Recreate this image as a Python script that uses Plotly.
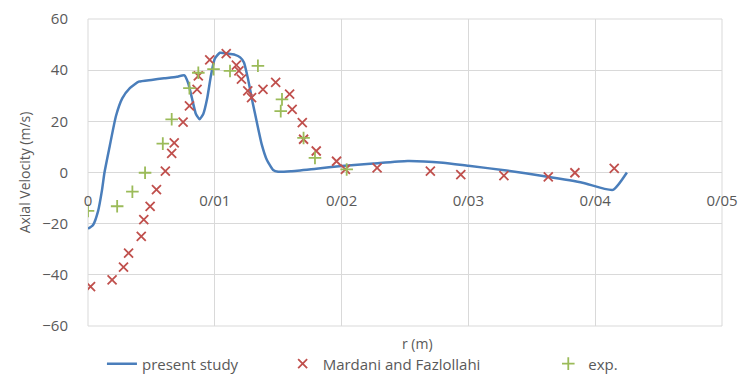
import plotly.graph_objects as go

# present study (CFD line)
r_study = [0, 0.0004, 0.0008, 0.0011, 0.0013, 0.0017, 0.0022, 0.0027, 0.0033, 0.0040,
           0.0050, 0.0060, 0.0070, 0.0076, 0.0079, 0.0082, 0.0085, 0.0088, 0.0091, 0.0094,
           0.0097, 0.0100, 0.0104, 0.0110, 0.0116, 0.0120, 0.0123, 0.0126, 0.0130, 0.0133,
           0.0137, 0.0141, 0.0146, 0.0150, 0.0160, 0.0180, 0.0200, 0.0225, 0.0252, 0.0280,
           0.0300, 0.0330, 0.0360, 0.0390, 0.0414, 0.0425]
v_study = [-22, -20.5, -15, -7, 0, 10, 22, 29, 33, 35.5,
           36.2, 36.8, 37.4, 38, 35, 29, 23, 20.8, 23, 29,
           38, 44.5, 46.8, 46.5, 46, 45, 43, 37, 27, 20,
           11, 5, 1, 0.3, 0.5, 1.5, 2.5, 3.5, 4.5, 3.8,
           2.6, 0.8, -1.5, -4, -6.8, 0]

# Mardani and Fazlollahi
r_mardani = [0.0002, 0.0019, 0.0028, 0.0032, 0.0042, 0.0044, 0.0049, 0.0054, 0.0061, 0.0066,
             0.0068, 0.0075, 0.0080, 0.0086, 0.0087, 0.0096, 0.0109, 0.0117, 0.0119, 0.0121,
             0.0126, 0.0129, 0.0138, 0.0148, 0.0159, 0.0161, 0.0169, 0.0170, 0.0180, 0.0196,
             0.0203, 0.0228, 0.0270, 0.0294, 0.0328, 0.0363, 0.0384, 0.0415]
v_mardani = [-44.6, -42, -37, -31.5, -25, -18.4, -13.2, -6.7, 0.5, 7.5,
             11.6, 19.7, 26, 32.5, 37.8, 44, 46.5, 42, 39.7, 36.5,
             31.9, 29.3, 32.5, 35.2, 30.6, 24.7, 19.5, 13, 8.4, 4.4,
             1.2, 1.8, 0.5, -0.8, -1.2, -1.7, -0.1, 1.6]

# experiment
r_exp = [0.0000, 0.0023, 0.0035, 0.0045, 0.0059, 0.0066, 0.0080, 0.0087, 0.0099, 0.0112,
         0.0134, 0.0152, 0.0153, 0.0170, 0.0179, 0.0204]
v_exp = [-15, -13.2, -7.5, -0.1, 11.3, 20.8, 33, 39, 40.4, 39.7,
         41.7, 24, 28.6, 13.5, 5.7, 1.2]

x_tickvals = [0, 0.01, 0.02, 0.03, 0.04, 0.05]
x_ticktext = ["0", "0/01", "0/02", "0/03", "0/04", "0/05"]
y_tickvals = [-60, -40, -20, 0, 20, 40, 60]

FONT = "Open Sans, sans-serif"
GRAY = "#595959"

fig = go.Figure()
fig.add_trace(go.Scatter(
    x=r_study, y=v_study, mode="lines", name="present study", legend="legend",
    line=dict(color="#4a7ebb", width=2.5, shape="spline", smoothing=0.5)))
fig.add_trace(go.Scatter(
    x=r_mardani, y=v_mardani, mode="markers", name="Mardani and Fazlollahi", legend="legend2",
    marker=dict(symbol="x-thin", size=9, line=dict(color="#c0504d", width=1.8))))
fig.add_trace(go.Scatter(
    x=r_exp, y=v_exp, mode="markers", name="exp.", legend="legend3",
    marker=dict(symbol="cross-thin", size=9, line=dict(color="#9bbb59", width=1.8))))

leg_common = dict(orientation="h", yref="container", y=0.027, yanchor="middle",
                  xanchor="left", font=dict(size=15, color=GRAY), bgcolor="rgba(0,0,0,0)")

fig.update_layout(
    width=742, height=374,
    margin=dict(l=88, r=20, t=19, b=48, autoexpand=False),
    paper_bgcolor="white", plot_bgcolor="white",
    font=dict(family=FONT, size=14, color=GRAY),
    showlegend=True,
    legend=dict(x=0.022, **leg_common),
    legend2=dict(x=0.307, **leg_common),
    legend3=dict(x=0.726, **leg_common),
    xaxis=dict(range=[0, 0.05], tickvals=x_tickvals, ticktext=x_ticktext, automargin=False,
               showgrid=True, gridcolor="#d9d9d9", gridwidth=1,
               zeroline=False, showline=False, anchor="free", position=0.5,
               ticks="", tickfont=dict(size=15, color=GRAY), ticklabelstandoff=17),
    yaxis=dict(range=[-60, 60], tickvals=y_tickvals, automargin=False,
               showgrid=True, gridcolor="#d9d9d9", gridwidth=1,
               zeroline=True, zerolinecolor="#d9d9d9", zerolinewidth=1,
               showline=False, ticks="", tickfont=dict(size=15, color=GRAY),
               ticklabelstandoff=19,
               title=dict(text="Axial Velocity (m/s)", font=dict(size=14, color=GRAY), standoff=8)),
    annotations=[dict(text="r (m)", xref="paper", yref="paper", x=0.52, y=-0.056,
                      xanchor="center", yanchor="middle", showarrow=False,
                      font=dict(size=14, color=GRAY))],
    shapes=[dict(type="rect", xref="paper", yref="paper", x0=0, x1=1, y0=0, y1=1,
                 line=dict(color="#d9d9d9", width=1), layer="below")],
)

fig.write_html("out.html")
